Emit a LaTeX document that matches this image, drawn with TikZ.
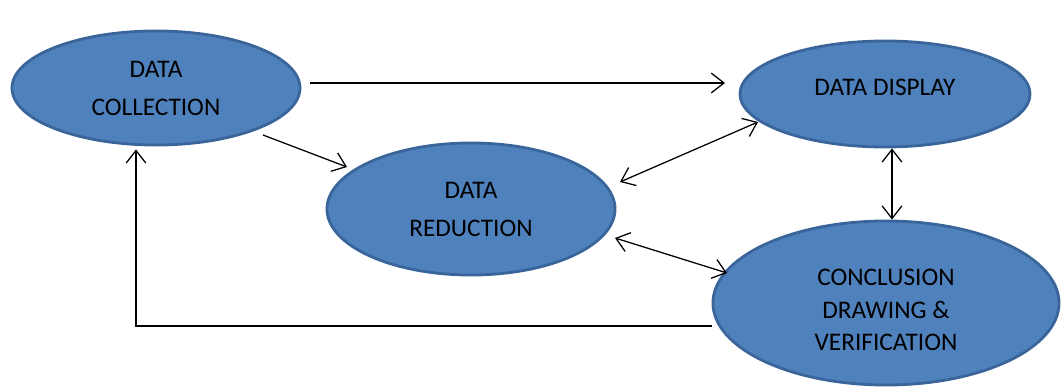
\documentclass[tikz,border=0pt]{standalone}
\usepackage{fontspec}
\setmainfont{Carlito}
\usetikzlibrary{shapes.geometric}
\usetikzlibrary{arrows.meta}
\usetikzlibrary{calc}
\definecolor{wordblue}{HTML}{4F81BD}
\definecolor{wordedge}{HTML}{3A659A}
\tikzset{txt/.style = {font=\fontsize{18}{27}\selectfont, align=center}}
\tikzset{blob/.style = {ellipse, fill=wordblue, draw=wordedge, line width=2pt,
                        inner sep=0, txt}}
\tikzset{arr/.style = {line width=0.9pt, -{Straight Barb[length=9pt,width=14pt]}}}
\tikzset{darr/.style = {line width=0.9pt,
                        {Straight Barb[length=9pt,width=14pt]}-{Straight Barb[length=9pt,width=14pt]}}}

\begin{document}
\begin{tikzpicture}[x=0.025cm,y=-0.025cm]
      \useasboundingbox (0,0) rectangle (1061,387);

      \node[blob, minimum width=7.2cm, minimum height=2.85cm] (dc) at (156,88) {DATA\\COLLECTION};
      \node[blob, minimum width=7.25cm, minimum height=2.65cm,
            label={[txt, yshift=5pt]center:DATA DISPLAY}] (dd) at (885,94) {};
      \node[blob, minimum width=7.2cm, minimum height=3.3cm] (dr) at (471,209) {DATA\\REDUCTION};
      \node[blob, minimum width=8.65cm, minimum height=4.1cm,
            label={[txt, font=\fontsize{18}{23}\selectfont, yshift=-5pt]center:CONCLUSION\\DRAWING \&\\VERIFICATION}] (cc) at (886,303) {};

      \draw[arr] ($(dc)+(154,-5)$) -- ($(dd)+(-160,-11)$);
      \draw[arr] ($(dc)+(107,47)$) -- ($(dr)+(-124,-42)$);
      \draw[darr] ($(dr)+(149,-27)$) -- ($(dd)+(-127,28)$);
      \draw[darr] ($(dd.south)+(7,0)$) -- ($(cc.north)+(6,0)$);
      \draw[darr] ($(dr)+(144,29)$) -- ($(cc)+(-159,-30)$);
      \draw[arr] ($(cc.west)+(0,23)$) -| ($(dc.south)+(-20,3)$);
\end{tikzpicture}
\end{document}
